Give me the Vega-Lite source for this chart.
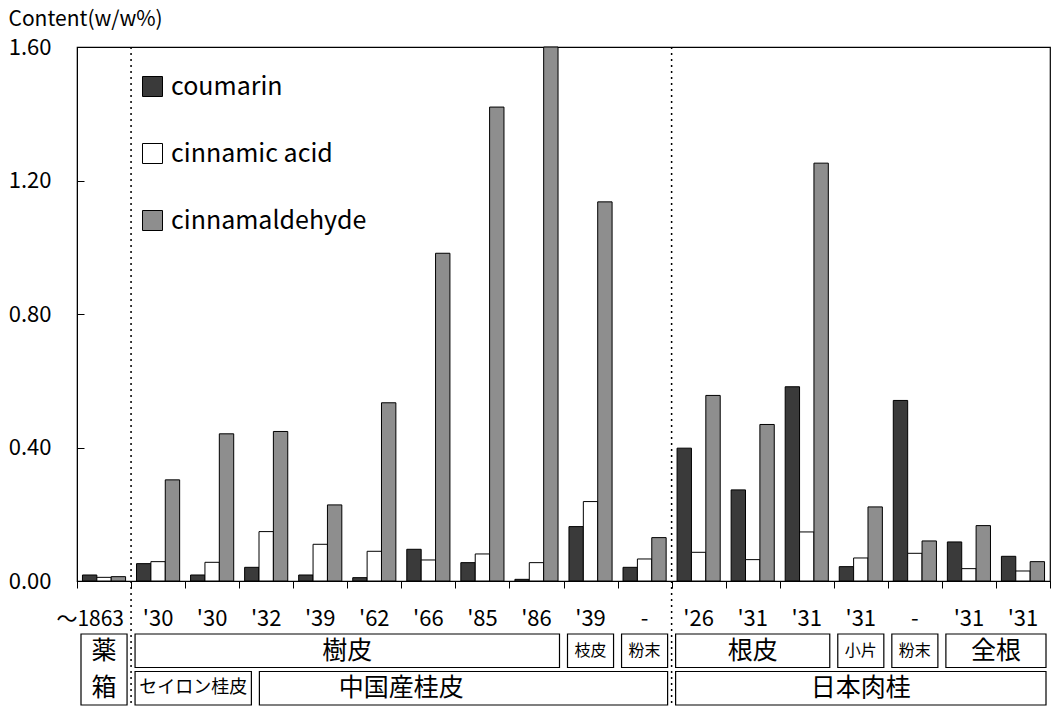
{
  "$schema": "https://vega.github.io/schema/vega-lite/v6.json",
  "padding": {"left": 8, "top": 8, "right": 5, "bottom": 0},
  "background": "white",
  "config": {
    "font": "Noto Sans CJK JP",
    "view": {"stroke": "black", "strokeWidth": 1.2},
    "axis": {"domainColor": "black", "tickColor": "black", "labelColor": "black", "titleColor": "black", "grid": false}
  },
  "datasets": {
    "samples": [
      {"sample": "01", "label": "～1863"},
      {"sample": "02", "label": "'30"},
      {"sample": "03", "label": "'30"},
      {"sample": "04", "label": "'32"},
      {"sample": "05", "label": "'39"},
      {"sample": "06", "label": "'62"},
      {"sample": "07", "label": "'66"},
      {"sample": "08", "label": "'85"},
      {"sample": "09", "label": "'86"},
      {"sample": "10", "label": "'39"},
      {"sample": "11", "label": "-"},
      {"sample": "12", "label": "'26"},
      {"sample": "13", "label": "'31"},
      {"sample": "14", "label": "'31"},
      {"sample": "15", "label": "'31"},
      {"sample": "16", "label": "-"},
      {"sample": "17", "label": "'31"},
      {"sample": "18", "label": "'31"}
    ],
    "bars": [
      {"sample": "01", "compound": "coumarin", "value": 0.018},
      {"sample": "01", "compound": "cinnamic acid", "value": 0.011},
      {"sample": "01", "compound": "cinnamaldehyde", "value": 0.013},
      {"sample": "02", "compound": "coumarin", "value": 0.052},
      {"sample": "02", "compound": "cinnamic acid", "value": 0.058},
      {"sample": "02", "compound": "cinnamaldehyde", "value": 0.303},
      {"sample": "03", "compound": "coumarin", "value": 0.018},
      {"sample": "03", "compound": "cinnamic acid", "value": 0.056},
      {"sample": "03", "compound": "cinnamaldehyde", "value": 0.441},
      {"sample": "04", "compound": "coumarin", "value": 0.041},
      {"sample": "04", "compound": "cinnamic acid", "value": 0.148},
      {"sample": "04", "compound": "cinnamaldehyde", "value": 0.448},
      {"sample": "05", "compound": "coumarin", "value": 0.018},
      {"sample": "05", "compound": "cinnamic acid", "value": 0.110},
      {"sample": "05", "compound": "cinnamaldehyde", "value": 0.228},
      {"sample": "06", "compound": "coumarin", "value": 0.010},
      {"sample": "06", "compound": "cinnamic acid", "value": 0.089},
      {"sample": "06", "compound": "cinnamaldehyde", "value": 0.534},
      {"sample": "07", "compound": "coumarin", "value": 0.095},
      {"sample": "07", "compound": "cinnamic acid", "value": 0.063},
      {"sample": "07", "compound": "cinnamaldehyde", "value": 0.982},
      {"sample": "08", "compound": "coumarin", "value": 0.055},
      {"sample": "08", "compound": "cinnamic acid", "value": 0.081},
      {"sample": "08", "compound": "cinnamaldehyde", "value": 1.42},
      {"sample": "09", "compound": "coumarin", "value": 0.005},
      {"sample": "09", "compound": "cinnamic acid", "value": 0.055},
      {"sample": "09", "compound": "cinnamaldehyde", "value": 1.60},
      {"sample": "10", "compound": "coumarin", "value": 0.163},
      {"sample": "10", "compound": "cinnamic acid", "value": 0.238},
      {"sample": "10", "compound": "cinnamaldehyde", "value": 1.136},
      {"sample": "11", "compound": "coumarin", "value": 0.041},
      {"sample": "11", "compound": "cinnamic acid", "value": 0.066},
      {"sample": "11", "compound": "cinnamaldehyde", "value": 0.130},
      {"sample": "12", "compound": "coumarin", "value": 0.398},
      {"sample": "12", "compound": "cinnamic acid", "value": 0.086},
      {"sample": "12", "compound": "cinnamaldehyde", "value": 0.556},
      {"sample": "13", "compound": "coumarin", "value": 0.273},
      {"sample": "13", "compound": "cinnamic acid", "value": 0.064},
      {"sample": "13", "compound": "cinnamaldehyde", "value": 0.469},
      {"sample": "14", "compound": "coumarin", "value": 0.582},
      {"sample": "14", "compound": "cinnamic acid", "value": 0.147},
      {"sample": "14", "compound": "cinnamaldehyde", "value": 1.252},
      {"sample": "15", "compound": "coumarin", "value": 0.043},
      {"sample": "15", "compound": "cinnamic acid", "value": 0.069},
      {"sample": "15", "compound": "cinnamaldehyde", "value": 0.222},
      {"sample": "16", "compound": "coumarin", "value": 0.541},
      {"sample": "16", "compound": "cinnamic acid", "value": 0.083},
      {"sample": "16", "compound": "cinnamaldehyde", "value": 0.120},
      {"sample": "17", "compound": "coumarin", "value": 0.117},
      {"sample": "17", "compound": "cinnamic acid", "value": 0.037},
      {"sample": "17", "compound": "cinnamaldehyde", "value": 0.166},
      {"sample": "18", "compound": "coumarin", "value": 0.074},
      {"sample": "18", "compound": "cinnamic acid", "value": 0.030},
      {"sample": "18", "compound": "cinnamaldehyde", "value": 0.058}
    ],
    "dividers": [
      {"sample": "02", "boundary": 1},
      {"sample": "12", "boundary": 11}
    ],
    "boxes": [
      {"name": "薬箱", "from": 0, "to": 1, "top": 0, "bottom": 2},
      {"name": "樹皮", "from": 1, "to": 9, "top": 0, "bottom": 1},
      {"name": "枝皮", "from": 9, "to": 10, "top": 0, "bottom": 1},
      {"name": "粉末", "from": 10, "to": 11, "top": 0, "bottom": 1},
      {"name": "根皮", "from": 11, "to": 14, "top": 0, "bottom": 1},
      {"name": "小片", "from": 14, "to": 15, "top": 0, "bottom": 1},
      {"name": "粉末", "from": 15, "to": 16, "top": 0, "bottom": 1},
      {"name": "全根", "from": 16, "to": 18, "top": 0, "bottom": 1},
      {"name": "セイロン桂皮", "from": 1, "to": 3.3, "top": 1, "bottom": 2},
      {"name": "中国産桂皮", "from": 3.3, "to": 11, "top": 1, "bottom": 2},
      {"name": "日本肉桂", "from": 11, "to": 18, "top": 1, "bottom": 2}
    ],
    "boxlabels": [
      {"text": "薬", "mid": 0.5, "row": 0.5, "kind": "large"},
      {"text": "箱", "mid": 0.5, "row": 1.5, "kind": "large"},
      {"text": "樹皮", "mid": 5, "row": 0.5, "kind": "large"},
      {"text": "枝皮", "mid": 9.5, "row": 0.5, "kind": "small"},
      {"text": "粉末", "mid": 10.5, "row": 0.5, "kind": "small"},
      {"text": "根皮", "mid": 12.5, "row": 0.5, "kind": "large"},
      {"text": "小片", "mid": 14.5, "row": 0.5, "kind": "small"},
      {"text": "粉末", "mid": 15.5, "row": 0.5, "kind": "small"},
      {"text": "全根", "mid": 17, "row": 0.5, "kind": "large"},
      {"text": "セイロン桂皮", "mid": 2.15, "row": 1.5, "kind": "medium"},
      {"text": "中国産桂皮", "mid": 6, "row": 1.5, "kind": "large"},
      {"text": "日本肉桂", "mid": 14.5, "row": 1.5, "kind": "large"}
    ]
  },
  "width": 973,
  "height": 534,
  "resolve": {"scale": {"x": "independent", "y": "independent"}},
  "layer": [
    {
      "data": {"name": "bars"},
      "mark": {"type": "bar", "stroke": "black", "strokeWidth": 1},
      "encoding": {
        "x": {
          "field": "sample", "type": "nominal",
          "scale": {"paddingInner": 0, "paddingOuter": 0},
          "axis": {"title": null, "tickBand": "extent", "tickSize": 7, "labels": false}
        },
        "xOffset": {
          "field": "compound", "type": "nominal",
          "sort": ["coumarin", "cinnamic acid", "cinnamaldehyde"],
          "scale": {"paddingInner": 0, "paddingOuter": 0.38}
        },
        "y": {
          "field": "value", "type": "quantitative",
          "scale": {"domain": [0, 1.6], "nice": false},
          "axis": {
            "values": [0, 0.4, 0.8, 1.2, 1.6],
            "format": ".2f",
            "tickSize": -7,
            "labelFontSize": 22,
            "labelPadding": 33,
            "title": "Content(w/w%)",
            "titleAngle": 0,
            "titleAlign": "left",
            "titleBaseline": "alphabetic",
            "titleX": -69,
            "titleY": -22,
            "titleFontSize": 21,
            "titleFontWeight": "normal"
          }
        },
        "color": {
          "field": "compound", "type": "nominal",
          "scale": {"domain": ["coumarin", "cinnamic acid", "cinnamaldehyde"], "range": ["#3a3a3a", "#ffffff", "#8e8e8e"]},
          "legend": {
            "title": null,
            "orient": "none",
            "legendX": 63,
            "legendY": 27,
            "symbolType": "square",
            "symbolSize": 400,
            "symbolStrokeColor": "black",
            "symbolStrokeWidth": 1,
            "symbolOpacity": 1,
            "labelFontSize": 25,
            "labelOffset": 6,
            "labelLimit": 0,
            "rowPadding": 41,
            "labelColor": "black"
          }
        }
      }
    },
    {
      "data": {"name": "boxes"},
      "mark": {"type": "rect", "fill": "white", "stroke": "black", "strokeWidth": 1.2, "xOffset": 4, "x2Offset": -4, "yOffset": 2, "y2Offset": -2},
      "encoding": {
        "x": {"field": "from", "type": "quantitative", "scale": {"domain": [0, 18], "nice": false, "zero": false}, "axis": null},
        "x2": {"field": "to"},
        "y": {"field": "top", "type": "quantitative", "scale": {"domain": [0, 2], "range": [585, 660], "nice": false, "zero": false}, "axis": null},
        "y2": {"field": "bottom"}
      }
    },
    {
      "data": {"name": "boxlabels"},
      "transform": [{"filter": {"field": "kind", "equal": "large"}}],
      "mark": {"type": "text", "fontSize": 25, "color": "black", "baseline": "middle", "align": "center"},
      "encoding": {
        "x": {"field": "mid", "type": "quantitative", "scale": {"domain": [0, 18], "nice": false, "zero": false}, "axis": null},
        "y": {"field": "row", "type": "quantitative", "scale": {"domain": [0, 2], "range": [585, 660], "nice": false, "zero": false}, "axis": null},
        "text": {"field": "text"}
      }
    },
    {
      "data": {"name": "boxlabels"},
      "transform": [{"filter": {"field": "kind", "equal": "small"}}],
      "mark": {"type": "text", "fontSize": 16, "color": "black", "baseline": "middle", "align": "center"},
      "encoding": {
        "x": {"field": "mid", "type": "quantitative", "scale": {"domain": [0, 18], "nice": false, "zero": false}, "axis": null},
        "y": {"field": "row", "type": "quantitative", "scale": {"domain": [0, 2], "range": [585, 660], "nice": false, "zero": false}, "axis": null},
        "text": {"field": "text"}
      }
    },
    {
      "data": {"name": "boxlabels"},
      "transform": [{"filter": {"field": "kind", "equal": "medium"}}],
      "mark": {"type": "text", "fontSize": 18, "color": "black", "baseline": "middle", "align": "center"},
      "encoding": {
        "x": {"field": "mid", "type": "quantitative", "scale": {"domain": [0, 18], "nice": false, "zero": false}, "axis": null},
        "y": {"field": "row", "type": "quantitative", "scale": {"domain": [0, 2], "range": [585, 660], "nice": false, "zero": false}, "axis": null},
        "text": {"field": "text"}
      }
    },
    {
      "data": {"name": "samples"},
      "transform": [{"filter": "datum.sample != '01'"}],
      "mark": {"type": "text", "fontSize": 22, "color": "black", "baseline": "alphabetic", "align": "center"},
      "encoding": {
        "x": {"field": "sample", "type": "nominal", "scale": {"domain": ["01","02","03","04","05","06","07","08","09","10","11","12","13","14","15","16","17","18"], "paddingInner": 0, "paddingOuter": 0}, "axis": null},
        "y": {"datum": -0.15, "type": "quantitative", "scale": {"domain": [0, 2], "range": [585, 660], "nice": false, "zero": false}, "axis": null},
        "text": {"field": "label"}
      }
    },
    {
      "data": {"name": "samples"},
      "transform": [{"filter": "datum.sample == '01'"}],
      "mark": {"type": "text", "fontSize": 21, "color": "black", "baseline": "alphabetic", "align": "right", "dx": 20},
      "encoding": {
        "x": {"field": "sample", "type": "nominal", "scale": {"domain": ["01","02","03","04","05","06","07","08","09","10","11","12","13","14","15","16","17","18"], "paddingInner": 0, "paddingOuter": 0}, "axis": null},
        "y": {"datum": -0.15, "type": "quantitative", "scale": {"domain": [0, 2], "range": [585, 660], "nice": false, "zero": false}, "axis": null},
        "text": {"field": "label"}
      }
    },
    {
      "data": {"name": "dividers"},
      "mark": {"type": "rule", "strokeDash": [2, 4], "strokeWidth": 1.5, "color": "black"},
      "encoding": {
        "x": {"field": "boundary", "type": "quantitative", "scale": {"domain": [0, 18], "nice": false, "zero": false}, "axis": null},
        "y": {"datum": -15.6, "type": "quantitative", "scale": {"domain": [0, 2], "range": [585, 660], "nice": false, "zero": false}, "axis": null},
        "y2": {"datum": 2}
      }
    }
  ]
}
